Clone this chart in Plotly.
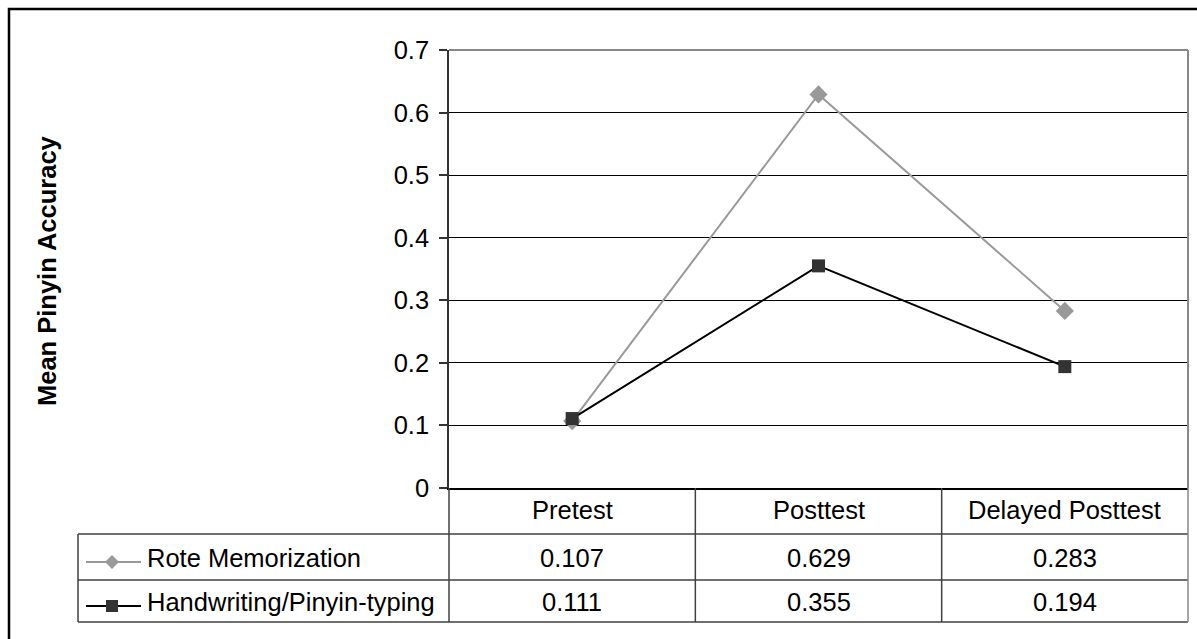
import plotly.graph_objects as go

# ---- data ----
categories = ["Pretest", "Posttest", "Delayed Posttest"]
series_names = ["Rote Memorization", "Handwriting/Pinyin-typing"]
rote_values = [0.107, 0.629, 0.283]
hand_values = [0.111, 0.355, 0.194]
y_ticks = [0, 0.1, 0.2, 0.3, 0.4, 0.5, 0.6, 0.7]
y_tick_labels = ["0", "0.1", "0.2", "0.3", "0.4", "0.5", "0.6", "0.7"]
y_title = "Mean Pinyin Accuracy"

W, H = 1197, 639
FONT = "Liberation Sans, Arial, sans-serif"
FS = 25.5


def px(x):
    return x / W


def py(y):
    return 1 - y / H


PL, PR, PT, PB = 449, 1188, 50, 488   # plot area in pixels
TBL_L = 78
ROWS = [488, 534, 580, 622]

fig = go.Figure()

series = [
    (series_names[0], rote_values, "#999999", "#999999", "diamond", 14),
    (series_names[1], hand_values, "#000000", "#333333", "square", 13),
]
xs = list(range(len(categories)))
for name, vals, lc, mc, sym, ms in series:
    fig.add_trace(go.Scatter(
        x=xs, y=vals, name=name, mode="lines+markers",
        line=dict(color=lc, width=2),
        marker=dict(symbol=sym, size=ms, color=mc, line=dict(width=0)),
        cliponaxis=False, showlegend=False,
    ))

shapes = []
annotations = []

line_col = "#404040"
# plot area top and right border (gray)
shapes.append(dict(type="line", xref="paper", yref="paper",
                   x0=px(PL), x1=px(PR), y0=py(PT), y1=py(PT),
                   line=dict(color="#888888", width=2)))
shapes.append(dict(type="line", xref="paper", yref="paper",
                   x0=px(PR), x1=px(PR), y0=py(PT), y1=py(PB),
                   line=dict(color="#888888", width=2)))

# table horizontal lines
for yy in ROWS[1:]:
    shapes.append(dict(type="line", xref="paper", yref="paper",
                       x0=px(TBL_L), x1=px(PR), y0=py(yy), y1=py(yy),
                       line=dict(color=line_col, width=1.5)))
# table vertical lines
n = len(categories)
colw = (PR - PL) / n
for i in range(n + 1):
    xx = PL + i * colw
    shapes.append(dict(type="line", xref="paper", yref="paper",
                       x0=px(xx), x1=px(xx), y0=py(ROWS[0]), y1=py(ROWS[-1]),
                       line=dict(color=line_col if i < n else "#888888", width=1.5)))
shapes.append(dict(type="line", xref="paper", yref="paper",
                   x0=px(TBL_L), x1=px(TBL_L), y0=py(ROWS[1]), y1=py(ROWS[-1]),
                   line=dict(color=line_col, width=1.5)))

# header labels
for i, c in enumerate(categories):
    annotations.append(dict(x=i, xref="x", y=py((ROWS[0] + ROWS[1]) / 2 - 1), yref="paper",
                            text=c, showarrow=False, xanchor="center", yanchor="middle",
                            font=dict(family=FONT, size=FS, color="#000")))

# value rows + legend keys
for r, (name, vals, lc, mc, sym, ms) in enumerate(series):
    ymid = (ROWS[r + 1] + ROWS[r + 2]) / 2 + 1
    for i, v in enumerate(vals):
        annotations.append(dict(x=i, xref="x", y=py(ymid), yref="paper",
                                text=f"{v:.3f}", showarrow=False,
                                xanchor="center", yanchor="middle",
                                font=dict(family=FONT, size=FS, color="#000")))
    annotations.append(dict(x=px(145), xref="paper", y=py(ymid), yref="paper",
                            text=name, showarrow=False, xanchor="left", yanchor="middle",
                            font=dict(family=FONT, size=FS, color="#000")))
    ky = ymid + 4
    shapes.append(dict(type="line", xref="paper", yref="paper",
                       x0=px(86), x1=px(141), y0=py(ky), y1=py(ky),
                       line=dict(color=lc, width=2)))
    cx = 112
    if sym == "diamond":
        s = 7
        path = (f"M {px(cx - s)},{py(ky)} L {px(cx)},{py(ky - s)} "
                f"L {px(cx + s)},{py(ky)} L {px(cx)},{py(ky + s)} Z")
        shapes.append(dict(type="path", xref="paper", yref="paper", path=path,
                           fillcolor=mc, line=dict(width=0)))
    else:
        s = 6
        shapes.append(dict(type="rect", xref="paper", yref="paper",
                           x0=px(cx - s), x1=px(cx + s), y0=py(ky - s), y1=py(ky + s),
                           fillcolor=mc, line=dict(width=0)))

# outer frame
shapes.append(dict(type="rect", xref="paper", yref="paper",
                   x0=px(9), x1=px(W + 10), y0=py(9), y1=py(H + 10),
                   line=dict(color="#000", width=2.5), fillcolor="rgba(0,0,0,0)"))

# y axis title
annotations.append(dict(x=px(47), xref="paper", y=py(271), yref="paper",
                        text=f"<b>{y_title}</b>", showarrow=False, textangle=-90,
                        xanchor="center", yanchor="middle",
                        font=dict(family=FONT, size=FS, color="#000")))

fig.update_layout(
    width=W, height=H,
    margin=dict(l=0, r=0, t=0, b=0, autoexpand=False),
    paper_bgcolor="white", plot_bgcolor="white",
    xaxis=dict(domain=[px(PL), px(PR)], range=[-0.5, n - 0.5], automargin=False,
               showticklabels=False, ticks="", showgrid=False, zeroline=False,
               showline=True, linecolor="#000", linewidth=1.5, fixedrange=True),
    yaxis=dict(domain=[py(PB), py(PT)], range=[0, 0.7], automargin=False,
               tickvals=y_ticks, ticktext=y_tick_labels,
               ticks="outside", ticklen=8, tickcolor="#333", tickwidth=1.5,
               showgrid=True, gridcolor="#000", gridwidth=1,
               zeroline=False, showline=True, linecolor="#333", linewidth=1.5,
               ticklabelstandoff=5,
               tickfont=dict(family=FONT, size=FS, color="#000"), fixedrange=True),
    shapes=shapes, annotations=annotations,
)

fig.write_html("out.html")
